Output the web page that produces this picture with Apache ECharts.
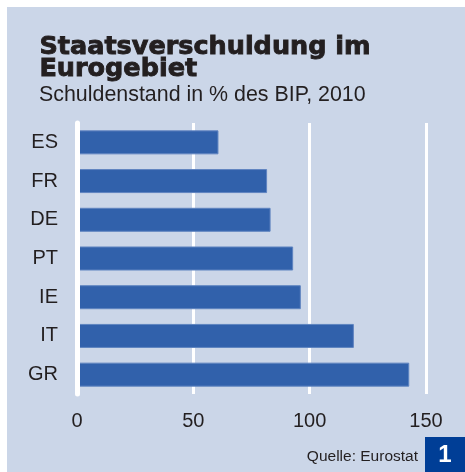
<!DOCTYPE html>
<html>
<head>
<meta charset="utf-8">
<script src="https://cdn.jsdelivr.net/npm/echarts@6/dist/echarts.min.js"></script>
<style>
    html,body{margin:0;padding:0;background:#fff;}
    #J_Main{width:465px;height:472px;}
</style>
</head>
<body>
<div id="J_Main"></div>
<script>
var countries=["ES","FR","DE","PT","IE","IT","GR"];
var debtValues=[60.8,81.7,83.2,92.9,96.2,119.0,142.8];
var xTicks=[0,50,100,150];

var viewContainer=document.getElementById("J_Main");
var myChart=echarts.init(viewContainer);

var textColor="#231f20";
var option={
    backgroundColor:"#fff",
    graphic:[
        {type:"rect",z:-10,shape:{x:7,y:7,width:458,height:465},style:{fill:"#cbd6e8"}},
        {type:"text",left:39,top:34,style:{text:"Staatsverschuldung im\nEurogebiet",fill:textColor,stroke:textColor,lineWidth:0.9,font:"bold 25.5px 'DejaVu Sans'",lineHeight:22}},
        {type:"text",left:39,top:85,style:{text:"Schuldenstand in % des BIP, 2010",fill:textColor,font:"21.4px 'Liberation Sans'"}},
        {type:"text",right:47,top:449,style:{text:"Quelle: Eurostat",fill:textColor,font:"15.5px 'Liberation Sans'"}},
        {type:"rect",shape:{x:425,y:437,width:40,height:35},style:{fill:"#003e96"}},
        {type:"text",x:445,y:455,style:{text:"1",fill:"#fff",font:"bold 24px 'Liberation Sans'",align:"center",verticalAlign:"middle"}}
    ],
    grid:{
        left:77,
        right:39,
        top:123,
        bottom:78
    },
    xAxis:{
        type:"value",
        min:0,
        max:150,
        interval:50,
        axisLine:{show:false},
        axisTick:{show:false},
        splitLine:{
            show:true,
            lineStyle:{color:"#fff",width:3}
        },
        axisLabel:{
            color:textColor,
            fontSize:20,
            fontFamily:"Liberation Sans",
            margin:17,
            formatter:function(v){return xTicks.indexOf(v)>=0?String(v):"";}
        }
    },
    yAxis:{
        type:"category",
        inverse:true,
        data:countries,
        z:5,
        axisLine:{
            show:true,
            lineStyle:{color:"#fff",width:5}
        },
        axisTick:{show:false},
        axisLabel:{
            color:textColor,
            fontSize:20,
            fontFamily:"Liberation Sans",
            margin:19
        }
    },
    series:[{
        type:"bar",
        data:debtValues,
        barCategoryGap:"38%",
        itemStyle:{
            color:"#3161ab",
            borderColor:"#5f84c0",
            borderWidth:1
        },
        silent:true
    }],
    animation:false
};
myChart.setOption(option);
</script>
</body>
</html>
